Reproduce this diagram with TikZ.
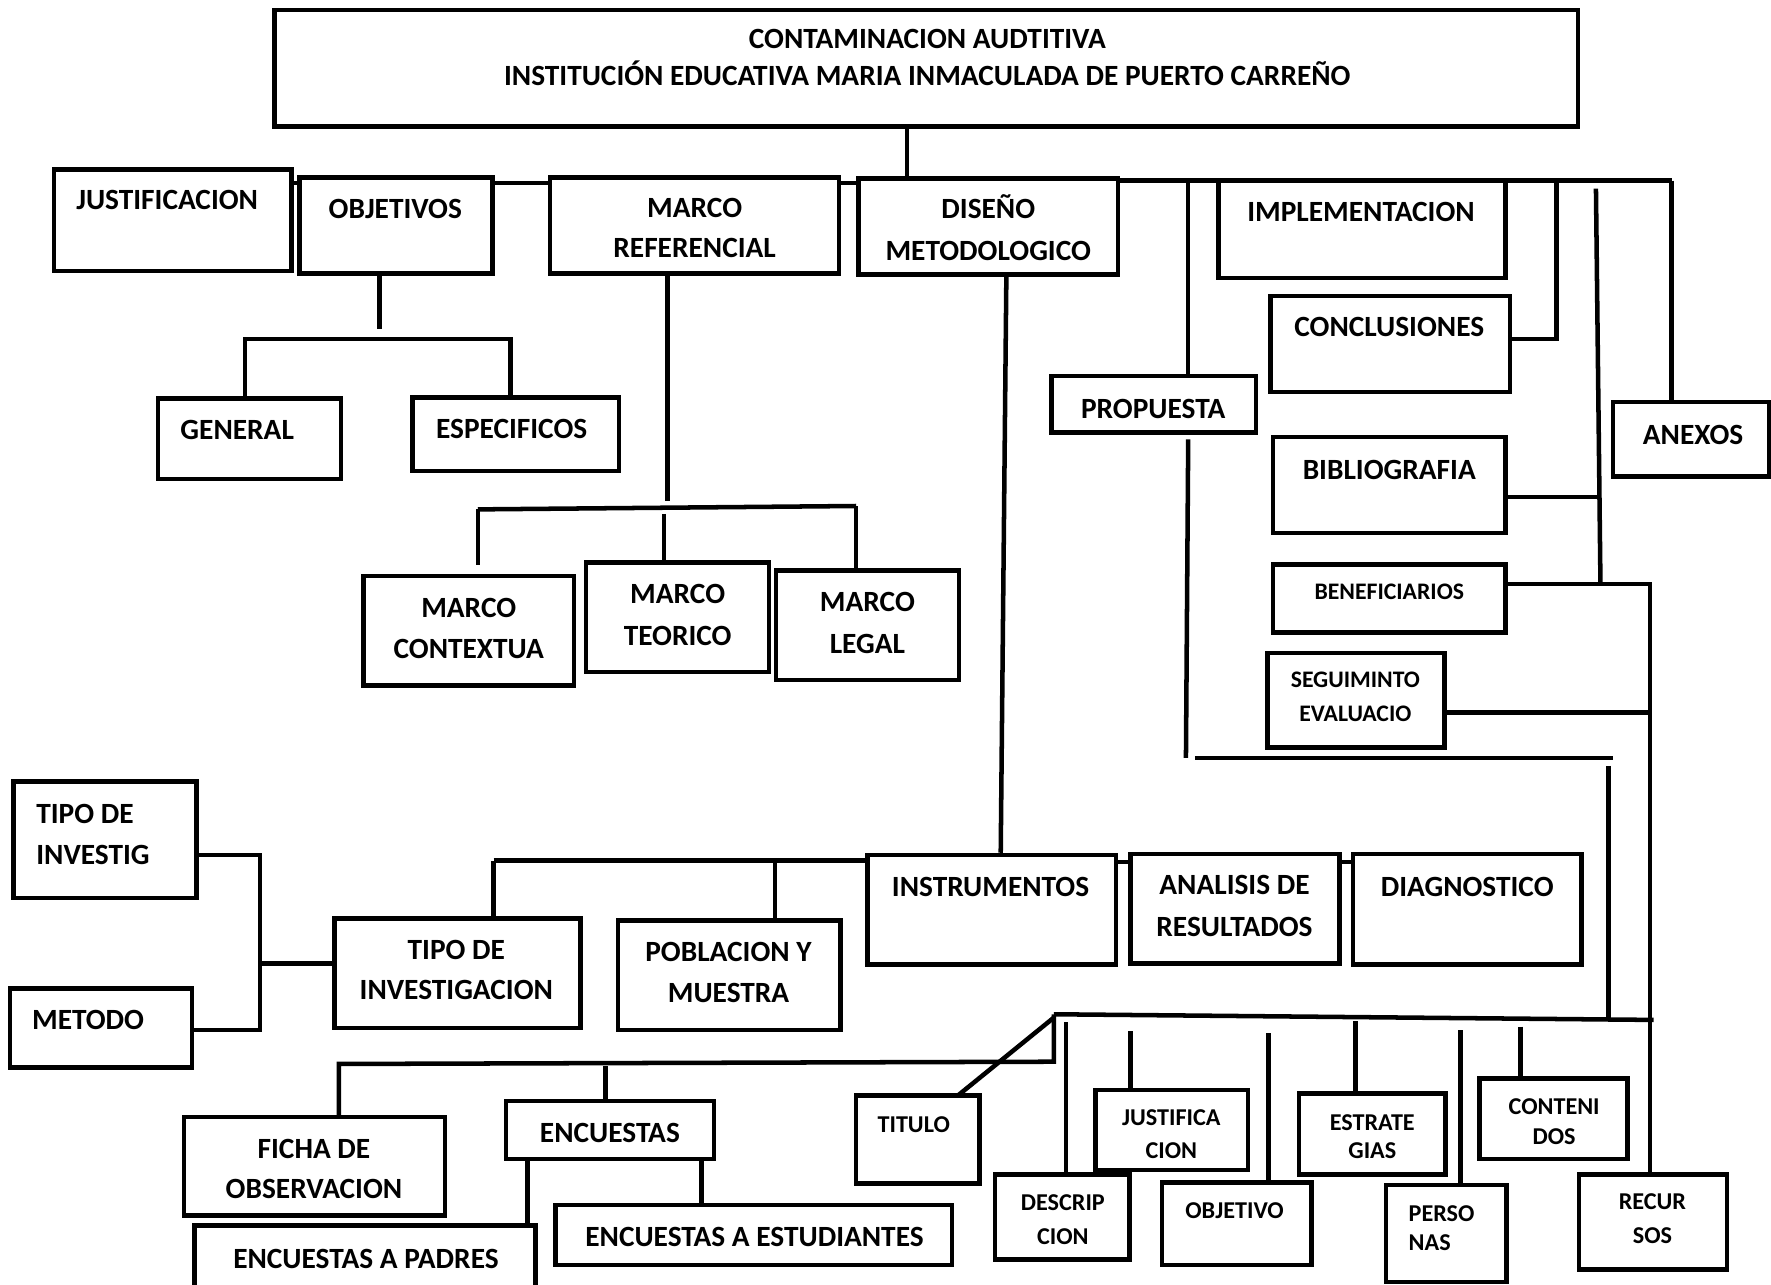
\documentclass[tikz,border=0pt]{standalone}
\usepackage{fontspec}
\setmainfont{Carlito}
\usetikzlibrary{fit}
\begin{document}
\begin{tikzpicture}[x=1pt,y=-1pt,
  box/.style={draw, line width=4pt, inner sep=0pt},
  ln/.style={line width=4pt},
  tx/.style={font=\fontsize{26}{30}\selectfont\bfseries, inner sep=0pt, text height=16.7pt, text depth=0pt},
  ts/.style={font=\fontsize{21.4}{25}\selectfont\bfseries, inner sep=0pt, text height=13.8pt, text depth=0pt},
  tb/.style={font=\fontsize{21}{25}\selectfont\bfseries, inner sep=0pt, text height=13.5pt, text depth=0pt}]
\fill[white] (0,0) rectangle (1568,1137);
\useasboundingbox (0,0) rectangle (1568,1137);

% ---------- boxes ----------
\node[box, fit={(243,9) (1397,112)}] (title) {};
\node[box, fit={(48,150) (258,240)}] (justif) {};
\node[box, fit={(265,157) (436,242)}] (objet) {};
\node[box, fit={(487,157) (743,242)}] (mref) {};
\node[box, fit={(760,158) (990,243)}] (disen) {};
\node[box, fit={(1079,160) (1333,246)}] (imple) {};
\node[box, fit={(1125,262) (1337,347)}] (concl) {};
\node[box, fit={(931,333) (1112,383)}] (propu) {};
\node[box, fit={(1428,356) (1566,422)}] (anexo) {};
\node[box, fit={(1127,387) (1333,472)}] (biblio) {};
\node[box, fit={(1127,500) (1333,560)}] (benef) {};
\node[box, fit={(1122,578) (1279,662)}] (segui) {};
\node[box, fit={(140,353) (302,424)}] (gener) {};
\node[box, fit={(365,352) (548,417)}] (espec) {};
\node[box, fit={(322,510) (508,607)}] (mcont) {};
\node[box, fit={(519,498) (681,595)}] (mteor) {};
\node[box, fit={(687,505) (849,602)}] (mlega) {};
\node[box, fit={(12,692) (174,795)}] (tipoi) {};
\node[box, fit={(9,875) (170,945)}] (metod) {};
\node[box, fit={(296,813) (514,910)}] (tipoinv) {};
\node[box, fit={(547,815) (744,912)}] (pobla) {};
\node[box, fit={(768,757) (988,854)}] (instr) {};
\node[box, fit={(1001,756) (1186,853)}] (anali) {};
\node[box, fit={(1198,756) (1400,854)}] (diagn) {};
\node[box, fit={(163,989) (394,1076)}] (ficha) {};
\node[box, fit={(448,975) (632,1026)}] (encu) {};
\node[box, fit={(172,1085) (474,1150)}] (epad) {};
\node[box, fit={(492,1067) (843,1120)}] (eest) {};
\node[box, fit={(758,970) (867,1048)}] (titul) {};
\node[box, fit={(881,1040) (1000,1115)}] (descr) {};
\node[box, fit={(970,965) (1105,1036)}] (justi2) {};
\node[box, fit={(1029,1047) (1161,1120)}] (objv) {};
\node[box, fit={(1150,968) (1280,1040)}] (estra) {};
\node[box, fit={(1227,1049) (1334,1135)}] (perso) {};
\node[box, fit={(1310,955) (1441,1026)}] (conte) {};
\node[box, fit={(1398,1040) (1529,1124)}] (recur) {};

% ---------- texts ----------
\node[tx] (title-t1) at (821,35) {CONTAMINACION AUDTITIVA};
\node[tx] (title-t2) at (821,67) {INSTITUCIÓN EDUCATIVA MARIA INMACULADA DE PUERTO CARREÑO};
\node[tx] (justif-t) at (148,177) {JUSTIFICACION};
\node[tx] (objet-t) at (350,185) {OBJETIVOS};
\node[tx] (mref-t1) at (615,184) {MARCO};
\node[tx] (mref-t2) at (615,220) {REFERENCIAL};
\node[tx] (disen-t1) at (875,185) {DISEÑO};
\node[tx] (disen-t2) at (875,222) {METODOLOGICO};
\node[tx] (imple-t) at (1205,188) {IMPLEMENTACION};
\node[tx] (concl-t) at (1230,290) {CONCLUSIONES};
\node[tx] (propu-t) at (1021,362) {PROPUESTA};
\node[tx] (anexo-t) at (1499,385) {ANEXOS};
\node[tx] (biblio-t) at (1230,416) {BIBLIOGRAFIA};
\node[tb] (benef-t) at (1230,524) {BENEFICIARIOS};
\node[tb] (segui-t1) at (1200,602) {SEGUIMINTO};
\node[tb] (segui-t2) at (1200,632) {EVALUACIO};
\node[tx] (gener-t) at (210,381) {GENERAL};
\node[tx] (espec-t) at (453,380) {ESPECIFICOS};
\node[tx] (mcont-t1) at (415,538) {MARCO};
\node[tx] (mcont-t2) at (415,575) {CONTEXTUA};
\node[tx] (mteor-t1) at (600,526) {MARCO};
\node[tx] (mteor-t2) at (600,563) {TEORICO};
\node[tx] (mlega-t1) at (768,533) {MARCO};
\node[tx] (mlega-t2) at (768,570) {LEGAL};
\node[tx, anchor=west] (tipoi-t1) at (32,721) {TIPO DE};
\node[tx, anchor=west] (tipoi-t2) at (32,757) {INVESTIG};
\node[tx] (metod-t) at (78,903) {METODO};
\node[tx] (tipoinv-t1) at (404,841) {TIPO DE};
\node[tx] (tipoinv-t2) at (404,877) {INVESTIGACION};
\node[tx] (pobla-t1) at (645,843) {POBLACION Y};
\node[tx] (pobla-t2) at (645,879) {MUESTRA};
\node[tx] (instr-t) at (877,785) {INSTRUMENTOS};
\node[tx] (anali-t1) at (1093,784) {ANALISIS DE};
\node[tx] (anali-t2) at (1093,821) {RESULTADOS};
\node[tx] (diagn-t) at (1299,785) {DIAGNOSTICO};
\node[tx] (ficha-t1) at (278,1017) {FICHA DE};
\node[tx] (ficha-t2) at (278,1053) {OBSERVACION};
\node[tx] (encu-t) at (540,1003) {ENCUESTAS};
\node[tx] (epad-t) at (324,1115) {ENCUESTAS A PADRES};
\node[tx] (eest-t) at (668,1095) {ENCUESTAS A ESTUDIANTES};
\node[ts] (titul-t) at (809,996) {TITULO};
\node[ts] (descr-t1) at (941,1065) {DESCRIP};
\node[ts] (descr-t2) at (941,1095) {CION};
\node[ts] (justi2-t1) at (1037,990) {JUSTIFICA};
\node[ts] (justi2-t2) at (1037,1019) {CION};
\node[ts] (objv-t) at (1093,1072) {OBJETIVO};
\node[ts] (estra-t1) at (1215,994) {ESTRATE};
\node[ts] (estra-t2) at (1215,1019) {GIAS};
\node[ts, anchor=west] (perso-t1) at (1247,1075) {PERSO};
\node[ts, anchor=west] (perso-t2) at (1247,1100) {NAS};
\node[ts] (conte-t1) at (1376,980) {CONTENI};
\node[ts] (conte-t2) at (1376,1006) {DOS};
\node[ts] (recur-t1) at (1463,1064) {RECUR};
\node[ts] (recur-t2) at (1463,1094) {SOS};

% ---------- junction coordinates ----------
\coordinate (j0) at (803,112);
\coordinate (busy) at (0,162);
\coordinate (busend) at (1480,160);
\coordinate (vp) at (1052,160);
\coordinate (vpb) at (1050,671);
\coordinate (vc) at (1378,160);
\coordinate (vc2) at (1378,300);
\coordinate (vb1) at (1413,167);
\coordinate (vb2) at (1417,517);
\coordinate (vb3) at (1414,440);
\coordinate (vr1) at (1461,517);
\coordinate (vs) at (1461,631);
\coordinate (h1a) at (1058,671);
\coordinate (h1b) at (1428,671);
\coordinate (h1c) at (1424,678);
\coordinate (h1d) at (1424,901);
\coordinate (bb0) at (933,898);
\coordinate (bb1) at (1464,903);
\coordinate (bl0) at (933,940);
\coordinate (bl1) at (300,942);
\coordinate (be) at (536,944);
\coordinate (tt) at (848,970);
\coordinate (d0) at (944,905);
\coordinate (js0) at (1001,913);
\coordinate (ob0) at (1123,915);
\coordinate (es0) at (1200,904);
\coordinate (pe0) at (1293,912);
\coordinate (co0) at (1346,909);
\coordinate (dv0) at (891,243);
\coordinate (dv1) at (886,757);
\coordinate (hi0) at (437,762);
\coordinate (hp) at (686,762);
\coordinate (ia) at (995,763);
\coordinate (lt0) at (230,757);
\coordinate (lt1) at (230,912);
\coordinate (lt2) at (230,853);
\coordinate (o0) at (336,291);
\coordinate (o1) at (217,300);
\coordinate (o2) at (452,300);
\coordinate (m0) at (591,444);
\coordinate (m1) at (423,451);
\coordinate (m1b) at (423,500);
\coordinate (m2) at (758,448);
\coordinate (m3) at (588,455);
\coordinate (ep) at (467,0);
\coordinate (es) at (621,0);

% ---------- connectors ----------
\draw[ln] (title.south -| j0) -- (disen.north -| j0);
\draw[ln] (justif.east |- busy) -- (objet.west |- busy);
\draw[ln] (objet.east |- busy) -- (mref.west |- busy);
\draw[ln] (mref.east |- busy) -- (disen.west |- busy);
\draw[ln] (disen.east |- busend) -- (busend);
\draw[ln] (vp) -- (propu.north -| vp);
\draw[ln] (propu.south -| vp) ++(0,4) -- (vpb);
\draw[ln] (vc) -- (vc2) -- (concl.east |- vc2);
\draw[ln] (vb1) -- (vb2);
\draw[ln] (biblio.east |- vb3) -- (vb3);
\draw[ln] (benef.east |- vr1) -- (vr1) -- (vr1 |- recur.north);
\draw[ln] (segui.east |- vs) -- (vs);
\draw[ln] (busend) -- (anexo.north -| busend);
\draw[ln] (h1a) -- (h1b);
\draw[ln] (h1c) -- (h1d);
\draw[ln] (bb0) -- (bb1);
\draw[ln] (bb0) -- (bl0) -- (bl1) -- (ficha.north -| bl1);
\draw[ln] (be) -- (encu.north -| be);
\draw[ln] (bb0) ++(0,3) -- (tt);
\draw[ln] (d0) -- (descr.north -| d0);
\draw[ln] (js0) -- (justi2.north -| js0);
\draw[ln] (ob0) -- (objv.north -| ob0);
\draw[ln] (es0) -- (estra.north -| es0);
\draw[ln] (pe0) -- (perso.north -| pe0);
\draw[ln] (co0) -- (conte.north -| co0);
\draw[ln] (encu.south -| ep) -- (epad.north -| ep);
\draw[ln] (encu.south -| es) -- (eest.north -| es);
\draw[ln] (disen.south -| dv0) -- (instr.north -| dv1);
\draw[ln] (hi0) -- (instr.west |- hi0);
\draw[ln] (hi0) -- (tipoinv.north -| hi0);
\draw[ln] (hp) -- (pobla.north -| hp);
\draw[ln] (instr.east |- ia) -- (anali.west |- ia);
\draw[ln] (anali.east |- ia) -- (diagn.west |- ia);
\draw[ln] (tipoi.east |- lt0) -- (lt0) -- (lt1) -- (metod.east |- lt1);
\draw[ln] (lt2) -- (tipoinv.west |- lt2);
\draw[ln] (objet.south -| o0) -- (o0);
\draw[ln] (o1 |- gener.north) -- (o1) -- (o2) -- (o2 |- espec.north);
\draw[ln] (mref.south -| m0) -- (m0);
\draw[ln] (m1) -- (m2);
\draw[ln] (m1) -- (m1b);
\draw[ln] (m3) -- (m3 |- mteor.north);
\draw[ln] (m2) -- (m2 |- mlega.north);
\end{tikzpicture}
\end{document}
